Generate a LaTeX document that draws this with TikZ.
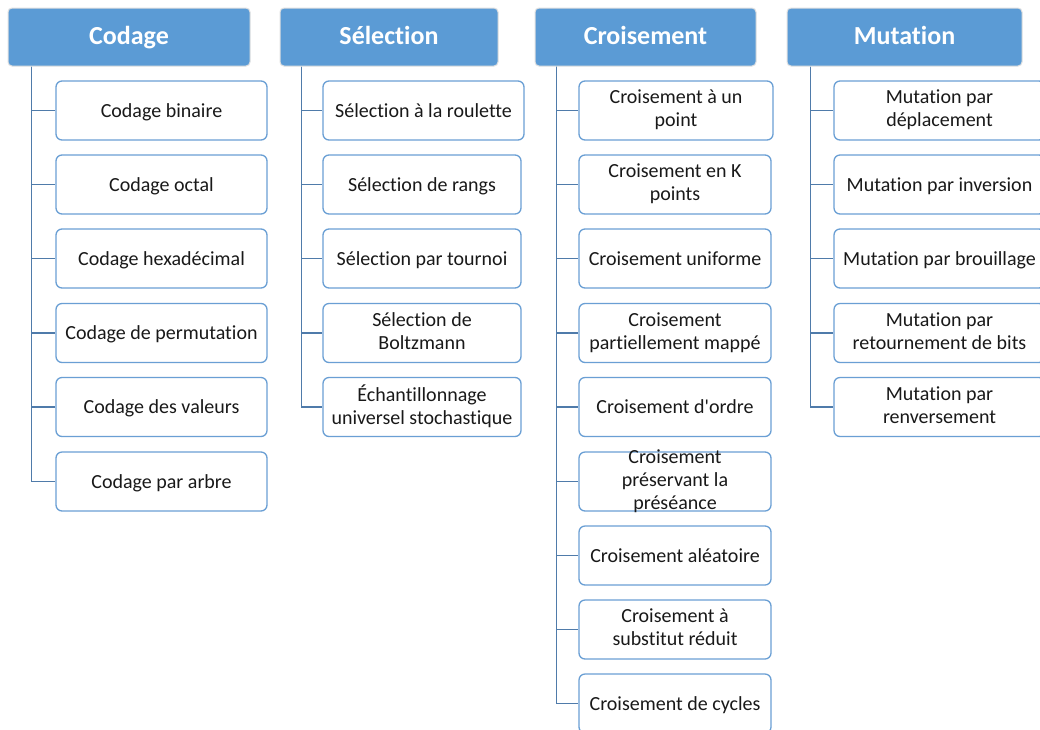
\documentclass[tikz,border=0pt]{standalone}
\usepackage{fontspec}
\setmainfont{Carlito}[Ligatures=NoCommon]
\definecolor{hdblue}{HTML}{5B9BD5}
\definecolor{leafedge}{HTML}{6A9FD4}
\definecolor{linkblue}{HTML}{4F7BAA}
\begin{document}
\begin{tikzpicture}[x=1pt,y=-1pt,
  head/.style={fill=hdblue, draw=black!12, line width=1pt, rounded corners=4pt,
    minimum height=58pt, text=white, inner sep=0pt, text height=18pt, text depth=4pt,
    font=\fontsize{26}{30}\selectfont\bfseries},
  lbl/.style={align=center, inner sep=0pt, text=black!90,
    font=\fontsize{20}{23}\selectfont,
    execute at begin node={\rule{0pt}{17.5pt}},
    execute at end node={\rule[-4.5pt]{0pt}{4.5pt}}},
  leaf/.style={lbl, fill=white, draw=leafedge, line width=1.3pt, rounded corners=6pt,
    minimum height=59pt},
  leafA/.style={leaf, minimum width=211pt},
  leafB/.style={leaf, minimum width=198pt},
  leafC/.style={leaf, minimum width=192pt},
  leafD/.style={leaf, minimum width=211pt},
  link/.style={draw=linkblue, line width=1.5pt}]
\clip (0,0) rectangle (1040,729);
\fill[white] (0,0) rectangle (1040,729);

% column headers
\node[head, minimum width=242pt] (hA) at (129,37)   {Codage};
\node[head, minimum width=218pt] (hB) at (389,37)   {Sélection};
\node[head, minimum width=221pt] (hC) at (645.5,37) {Croisement};
\node[head, minimum width=235pt] (hD) at (904.5,37) {Mutation};

% Codage
\node[leafA] (a1) at (161.5,110.5) {Codage binaire};
\node[leafA] (a2) at (161.5,184.5) {Codage octal};
\node[leafA] (a3) at (161.5,258.5) {Codage hexadécimal};
\node[leafA] (a4) at (161.5,333)   {Codage de permutation};
\node[leafA] (a5) at (161.5,407)   {Codage des valeurs};
\node[leafA] (a6) at (161.5,481.5) {Codage par arbre};

% Sélection
\node[leaf, minimum width=201pt] (b1) at (423.5,110.5) {Sélection à la roulette};
\node[leafB] (b2) at (422,184.5) {Sélection de rangs};
\node[leafB] (b3) at (422,258.5) {Sélection par tournoi};
\node[leafB] (b4) at (422,333)   {Sélection de\\Boltzmann};
\node[leafB] (b5) at (422,407)   {Échantillonnage\\universel stochastique};

% Croisement
\node[leaf, minimum width=194pt] (c1) at (676,110.5) {Croisement à un\\point};
\node[leafC] (c2) at (675,184.5) {Croisement en K\\points};
\node[leafC] (c3) at (675,258.5) {Croisement uniforme};
\node[leafC] (c4) at (675,333)   {Croisement\\partiellement mappé};
\node[leafC] (c5) at (675,407)   {Croisement d\textquotesingle ordre};
\node[leafC, execute at begin node={}, execute at end node={}] (c6) at (675,481.5) {};
\node[lbl] (c6t) at (c6.center) {Croisement\\préservant la\\préséance};
\node[leafC] (c7) at (675,555.5) {Croisement aléatoire};
\node[leafC] (c8) at (675,629.5) {Croisement à\\substitut réduit};
\node[leafC] (c9) at (675,703.5) {Croisement de cycles};

% Mutation
\node[leafD] (d1) at (939.5,110.5) {Mutation par\\déplacement};
\node[leafD] (d2) at (939.5,184.5) {Mutation par inversion};
\node[leafD] (d3) at (939.5,258.5) {Mutation par brouillage};
\node[leafD] (d4) at (939.5,333)   {Mutation par\\retournement de bits};
\node[leafD] (d5) at (939.5,407)   {Mutation par\\renversement};

% connectors from each header down its column
\foreach \n in {a1,a2,a3,a4,a5,a6}
  \draw[link] ([xshift=24pt]hA.south west) |- (\n.west);
\foreach \n in {b1,b2,b3,b4,b5}
  \draw[link] ([xshift=22pt]hB.south west) |- (\n.west);
\foreach \n in {c1,c2,c3,c4,c5,c6,c7,c8,c9}
  \draw[link] ([xshift=22pt]hC.south west) |- (\n.west);
\foreach \n in {d1,d2,d3,d4,d5}
  \draw[link] ([xshift=24pt]hD.south west) |- (\n.west);
\end{tikzpicture}
\end{document}
